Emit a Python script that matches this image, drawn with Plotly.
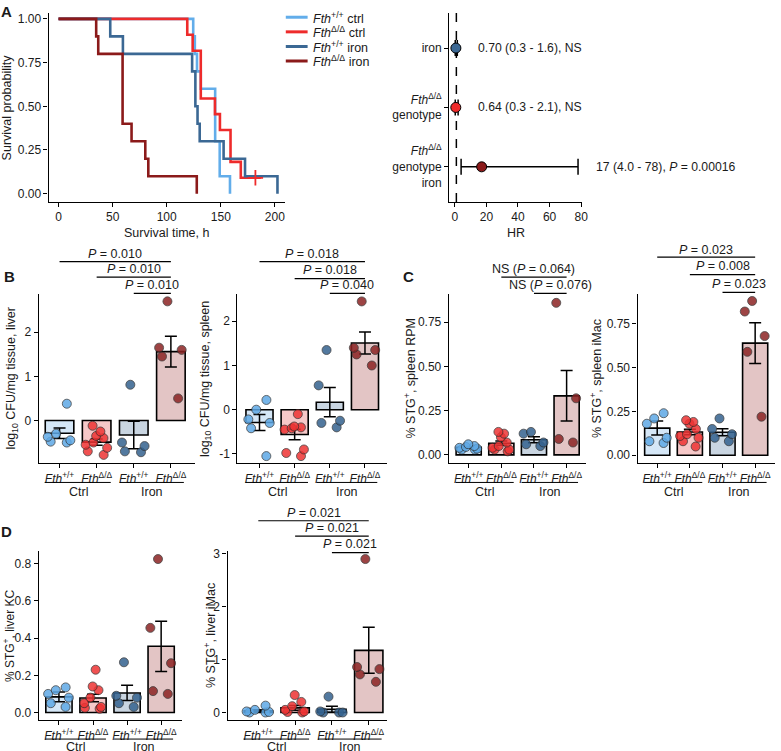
import plotly.graph_objects as go

W, H = 781, 751
FONT = "Liberation Sans, Arial, Helvetica, sans-serif"
TXT = "#1a1a1a"

# ---------------- DATA ----------------
# Panel A left: Kaplan-Meier survival
km_legend = ["<i>Fth</i><sup>+/+</sup> ctrl", "<i>Fth</i><sup>Δ/Δ</sup> ctrl",
             "<i>Fth</i><sup>+/+</sup> iron", "<i>Fth</i><sup>Δ/Δ</sup> iron"]
km_time_wt_ctrl = [0, 124.5, 126, 128, 131.5, 144.8, 149, 158.5]
km_surv_wt_ctrl = [1.0, 0.9, 0.8, 0.7, 0.6, 0.3, 0.1, 0.0]
km_time_ko_ctrl = [0, 119, 124, 131.5, 144.6, 149.2, 159, 168.5, 187]
km_surv_ko_ctrl = [1.0, 0.909, 0.818, 0.545, 0.455, 0.364, 0.182, 0.091, 0.091]
km_time_wt_iron = [0, 47.8, 59.5, 123.5, 126.5, 128.5, 130.5, 152.6, 172.4, 202.4]
km_surv_wt_iron = [1.0, 0.9, 0.8, 0.7, 0.5, 0.4, 0.3, 0.2, 0.1, 0.0]
km_time_ko_iron = [0, 34.8, 36.7, 59.2, 67.5, 80.2, 83.0, 127.8]
km_surv_ko_iron = [1.0, 0.9, 0.8, 0.4, 0.3, 0.2, 0.1, 0.0]
km_censor_time_ko_ctrl = [182]
km_censor_surv_ko_ctrl = [0.091]
km_xticks = [0, 50, 100, 150, 200]
km_yticks = [0, 0.25, 0.5, 0.75, 1.0]
km_yticktext = ["0.00", "0.25", "0.50", "0.75", "1.00"]

# Panel A right: hazard ratios
hr_pos = [3, 2, 1]
hr_ticktext = ["iron",
               "<i>Fth</i><sup>Δ/Δ</sup><br>genotype",
               "<i>Fth</i><sup>Δ/Δ</sup><br>genotype<br>iron"]
hr_estimate = [0.70, 0.64, 17]
hr_ci_low = [0.3, 0.3, 4.0]
hr_ci_high = [1.6, 2.1, 78]
hr_label = ["0.70 (0.3 - 1.6), NS", "0.64 (0.3 - 2.1), NS",
            "17 (4.0 - 78), <i>P</i> = 0.00016"]
hr_xticks = [0, 20, 40, 60, 80]

# Bar panels (groups: Fth+/+ ctrl, FthΔ/Δ ctrl, Fth+/+ iron, FthΔ/Δ iron)
bar_ticktext = ["<i>Fth</i><sup>+/+</sup>", "<i>Fth</i><sup>Δ/Δ</sup>",
                "<i>Fth</i><sup>+/+</sup>", "<i>Fth</i><sup>Δ/Δ</sup>"]
treatment_labels = ["Ctrl", "Iron"]

liver_cfu_mean = [-0.29, -0.49, -0.33, 1.56]
liver_cfu_se = [0.12, 0.07, 0.31, 0.35]
liver_cfu_pts = [[0.38, -0.30, -0.37, -0.45, -0.48, -0.50],
                 [-0.12, -0.25, -0.35, -0.40, -0.50, -0.55, -0.62, -0.70, -0.78],
                 [0.81, -0.50, -0.58, -0.70, -0.72],
                 [2.70, 1.65, 1.60, 1.45, 0.50]]
liver_cfu_p = ["<i>P</i> = 0.010", "<i>P</i> = 0.010", "<i>P</i> = 0.010"]

spleen_cfu_mean = [-0.29, -0.56, 0.17, 1.51]
spleen_cfu_se = [0.18, 0.12, 0.33, 0.25]
spleen_cfu_pts = [[0.22, 0.0, -0.22, -0.30, -0.42, -1.05],
                  [-0.10, -0.38, -0.40, -0.42, -0.45, -0.90, -0.98, -1.05],
                  [1.35, 0.55, -0.25, -0.30, -0.40],
                  [2.45, 1.40, 1.35, 1.25, 1.00]]
spleen_cfu_p = ["<i>P</i> = 0.018", "<i>P</i> = 0.018", "<i>P</i> = 0.040"]

spleen_rpm_mean = [0.043, 0.066, 0.086, 0.334]
spleen_rpm_se = [0.005, 0.012, 0.017, 0.143]
spleen_rpm_pts = [[0.06, 0.05, 0.045, 0.04, 0.035, 0.03, 0.03],
                  [0.13, 0.12, 0.10, 0.07, 0.05, 0.04, 0.03, 0.02, 0.03],
                  [0.13, 0.12, 0.07, 0.06, 0.05],
                  [0.86, 0.32, 0.09, 0.07]]
spleen_rpm_p = ["NS (<i>P</i> = 0.064)", "NS (<i>P</i> = 0.076)"]

spleen_imac_mean = [0.155, 0.133, 0.131, 0.64]
spleen_imac_se = [0.04, 0.016, 0.02, 0.116]
spleen_imac_pts = [[0.24, 0.21, 0.18, 0.10, 0.08, 0.07],
                   [0.20, 0.19, 0.18, 0.15, 0.12, 0.11, 0.10, 0.08, 0.05],
                   [0.21, 0.15, 0.12, 0.10, 0.08],
                   [0.88, 0.82, 0.68, 0.59, 0.22]]
spleen_imac_p = ["<i>P</i> = 0.023", "<i>P</i> = 0.008", "<i>P</i> = 0.023"]

liver_kc_mean = [0.084, 0.078, 0.105, 0.356]
liver_kc_se = [0.026, 0.02, 0.041, 0.135]
liver_kc_pts = [[0.135, 0.12, 0.10, 0.08, 0.05, 0.03],
                [0.23, 0.14, 0.12, 0.08, 0.05, 0.03, 0.025, 0.02],
                [0.27, 0.09, 0.08, 0.05, 0.03],
                [0.825, 0.455, 0.265, 0.115, 0.10]]

liver_imac_mean = [0.03, 0.088, 0.062, 1.175]
liver_imac_se = [0.02, 0.045, 0.058, 0.435]
liver_imac_pts = [[0.13, 0.05, 0.02, 0.0, 0.0, 0.01],
                  [0.33, 0.20, 0.12, 0.05, 0.02, 0.01, 0.0],
                  [0.30, 0.02, 0.0, 0.0, 0.0],
                  [2.90, 0.86, 0.82, 0.72, 0.58]]
liver_imac_p = ["<i>P</i> = 0.021", "<i>P</i> = 0.021", "<i>P</i> = 0.021"]

bracket_pairs = [(0, 3), (1, 3), (2, 3)]

# ---------------- STYLE ----------------
line_colors = ["#62ADEA", "#EE2B2B", "#3B6894", "#8B1A1A"]
bar_fill = ["#D5E7F7", "#F6C8C8", "#C9D5E1", "#E3C5C5"]
pt_fill = ["#5FA9E6", "#EE3333", "#34628F", "#8C2424"]

fig = go.Figure()


def py(p):
    return 1 - p / H


def cal_range(v0, p0, v1, p1, pa, pb):
    s = (v1 - v0) / (p1 - p0)
    return [v0 + (pa - p0) * s, v0 + (pb - p0) * s]


axis_common = dict(showline=True, linecolor="black", linewidth=1.3,
                   ticks="outside", ticklen=4, tickwidth=1.2, tickcolor="black",
                   showgrid=False, zeroline=False,
                   tickfont=dict(family=FONT, size=12, color=TXT))


def make_axes(n, xcal, xpx, ycal, ypx, xkw, ykw):
    xr = cal_range(xcal[0][0], xcal[0][1], xcal[1][0], xcal[1][1], xpx[0], xpx[1])
    yr = cal_range(ycal[0][0], ycal[0][1], ycal[1][0], ycal[1][1], ypx[1], ypx[0])
    sfx = "" if n == 1 else str(n)
    xa = dict(axis_common)
    xa.update(domain=[max(0, xpx[0] / W), min(1, xpx[1] / W)], range=xr, anchor="y" + sfx)
    xa.update(xkw)
    ya = dict(axis_common)
    ya.update(domain=[max(0, 1 - ypx[1] / H), min(1, 1 - ypx[0] / H)], range=yr, anchor="x" + sfx)
    ya.update(ykw)
    fig.update_layout({"xaxis" + sfx: xa, "yaxis" + sfx: ya})
    return "x" + sfx, "y" + sfx


def text(x, y, s, xref="paper", size=12, angle=0, xanchor="center", yanchor="middle", bold=False):
    if bold:
        s = "<b>" + s + "</b>"
    fig.add_annotation(x=x, y=y, xref=xref, yref="paper", text=s, showarrow=False,
                       textangle=angle, xanchor=xanchor, yanchor=yanchor,
                       font=dict(family=FONT, size=size, color=TXT))


# ---------------- PANEL A: KM ----------------
xa, ya = make_axes(1, ((0, 59), (200, 277)), (49, 287), ((1, 15), (0, 190.7)), (9, 199),
                   dict(tickvals=km_xticks), dict(tickvals=km_yticks, ticktext=km_yticktext))
for t, s, c in zip([km_time_wt_ctrl, km_time_ko_ctrl, km_time_wt_iron, km_time_ko_iron],
                   [km_surv_wt_ctrl, km_surv_ko_ctrl, km_surv_wt_iron, km_surv_ko_iron],
                   line_colors):
    fig.add_trace(go.Scatter(x=t, y=s, mode="lines", line=dict(color=c, width=2.6, shape="hv"),
                             xaxis=xa, yaxis=ya, showlegend=False))
fig.add_trace(go.Scatter(x=km_censor_time_ko_ctrl, y=km_censor_surv_ko_ctrl, mode="markers",
                         marker=dict(symbol="cross-thin", size=11,
                                     line=dict(color=line_colors[1], width=1.8)),
                         xaxis=xa, yaxis=ya, showlegend=False))
text(8 / W, py(104), "Survival probability", angle=-90, size=12.5)
text(168 / W, py(230), "Survival time, h", size=12.5)
# manual legend
for lab, c, rowy in zip(km_legend, line_colors, [13.3, 28, 42.7, 57.3]):
    fig.add_shape(type="line", xref="paper", yref="paper", x0=288 / W, x1=310 / W,
                  y0=py(rowy), y1=py(rowy), line=dict(color=c, width=3))
    text(313 / W, py(rowy + 0.5), lab, xanchor="left", size=12.5)

# ---------------- PANEL A: HR ----------------
xa, ya = make_axes(2, ((0, 458.3), (80, 585.7)), (452.7, 587), ((3, 44.3), (1, 163.7)), (9, 199),
                   dict(tickvals=hr_xticks), dict(tickvals=hr_pos, ticktext=hr_ticktext))
fig.add_shape(type="line", xref=xa, yref="y2 domain", x0=1, x1=1, y0=0, y1=1, layer="below",
              line=dict(color="black", width=1.5, dash="dash"))
for i in range(3):
    fig.add_trace(go.Scatter(
        x=[hr_estimate[i]], y=[hr_pos[i]], mode="markers",
        marker=dict(color=line_colors[[2, 1, 3][i]], size=10, line=dict(color="black", width=1)),
        error_x=dict(type="data", symmetric=False,
                     array=[hr_ci_high[i] - hr_estimate[i]],
                     arrayminus=[hr_estimate[i] - hr_ci_low[i]],
                     color="black", thickness=1.5, width=8),
        xaxis=xa, yaxis=ya, showlegend=False))
for lab, yv, xp in zip(hr_label, [44.3, 104, 163.7], [480, 480, 599]):
    text(xp / W, py(yv), lab, xanchor="left", size=12.2)
text(520 / W, py(230), "HR", size=12.5)


# ---------------- BAR PANELS ----------------
def bar_panel(n, xcal, xpx, ycal, ypx, ytv, ytt, means, ses, pts, title, title_x,
              ptexts=None, line_py=None, text_py=None, under_py=481, label_py=491, title_size=12.5):
    xa, ya = make_axes(n, xcal, xpx, ycal, ypx,
                       dict(tickvals=[0, 1, 2, 3], ticktext=bar_ticktext),
                       dict(tickvals=ytv, ticktext=ytt))
    fig.add_trace(go.Bar(x=[0, 1, 2, 3], y=means, width=0.77,
                         marker=dict(color=bar_fill, line=dict(color="black", width=1.6)),
                         error_y=dict(type="data", array=ses, color="black", thickness=1.5, width=6),
                         xaxis=xa, yaxis=ya, showlegend=False))
    for i in range(4):
        fig.add_trace(go.Box(x=[i] * len(pts[i]), y=pts[i], boxpoints="all", jitter=1, pointpos=0,
                             width=0.75, fillcolor="rgba(0,0,0,0)",
                             line=dict(width=0, color="rgba(0,0,0,0)"),
                             marker=dict(color=pt_fill[i], size=9, opacity=0.85,
                                         line=dict(color="#2a2a2a", width=0.8)),
                             xaxis=xa, yaxis=ya, showlegend=False))
    text(title_x / W, py((ypx[0] + ypx[1]) / 2), title, angle=-90, size=title_size)
    # group underline + labels
    for (a, b), lab, mid in zip([(-0.4, 1.38), (1.62, 3.35)], treatment_labels, [0.5, 2.5]):
        fig.add_shape(type="line", xref=xa, yref="paper", x0=a, x1=b, y0=py(under_py), y1=py(under_py),
                      line=dict(color="black", width=1))
        text(mid, py(label_py), lab, xref=xa, size=12.5)
    if ptexts:
        pairs = bracket_pairs[-len(ptexts):] if len(ptexts) < 3 else bracket_pairs
        for (a, b), s, lp, tp in zip(pairs, ptexts, line_py, text_py):
            fig.add_shape(type="line", xref=xa, yref="paper", x0=a, x1=b, y0=py(lp), y1=py(lp),
                          line=dict(color="black", width=1.2))
            text((a + b) / 2, py(tp), s, xref=xa, size=12.5)


bar_panel(3, ((0, 60), (3, 172.2)), (39, 196.7), ((2, 330), (0, 418.7)), (291.7, 461.7),
          [0, 1, 2], ["0", "1", "2"], liver_cfu_mean, liver_cfu_se, liver_cfu_pts,
          "log<sub>10</sub> CFU/mg tissue, liver", 12,
          liver_cfu_p, [259, 274.5, 291], [251.5, 266.5, 283])
bar_panel(4, ((0, 261.5), (3, 367.8)), (239.3, 390), ((2, 319), (-1, 452.3)), (291.7, 461.7),
          [-1, 0, 1, 2], ["-1", "0", "1", "2"], spleen_cfu_mean, spleen_cfu_se, spleen_cfu_pts,
          "log<sub>10</sub> CFU/mg tissue, spleen", 207,
          spleen_cfu_p, [259, 276, 291], [251.5, 267.5, 283])
bar_panel(5, ((0, 472.3), (3, 571)), (452.3, 590.7), ((0.75, 320), (0, 453.3)), (291.7, 461.7),
          [0, 0.25, 0.5, 0.75], ["0.00", "0.25", "0.50", "0.75"],
          spleen_rpm_mean, spleen_rpm_se, spleen_rpm_pts,
          "% STG<sup>+</sup>, spleen RPM", 413,
          spleen_rpm_p, [274.5, 291], [266, 282.5])
bar_panel(6, ((0, 662.3), (3, 761)), (642.5, 781), ((0.75, 321.5), (0, 453.7)), (291.7, 461.7),
          [0, 0.25, 0.5, 0.75], ["0.00", "0.25", "0.50", "0.75"],
          spleen_imac_mean, spleen_imac_se, spleen_imac_pts,
          "% STG<sup>+</sup>, spleen iMac", 600,
          spleen_imac_p, [254.5, 272, 290], [247, 263.5, 281])
bar_panel(7, ((0, 59.4), (3, 162.4)), (39, 183.3), ((0.8, 562.7), (0, 712.3)), (550, 720),
          [0, 0.2, 0.4, 0.6, 0.8], ["0.0", "0.2", "0.4", "0.6", "0.8"],
          liver_kc_mean, liver_kc_se, liver_kc_pts,
          "% STG<sup>+</sup>, liver KC", 8.5, under_py=739, label_py=746.5, title_size=12)
bar_panel(8, ((0, 260.3), (3, 371.6)), (229.3, 390), ((3, 552.7), (0, 712.3)), (550, 720),
          [0, 1, 2, 3], ["0", "1", "2", "3"],
          liver_imac_mean, liver_imac_se, liver_imac_pts,
          "% STG<sup>+</sup>, liver iMac", 211,
          liver_imac_p, [519.5, 535, 551.5], [511.5, 527, 543], under_py=739, label_py=746.5)

# panel letters
for lab, x, yv in [("A", 7, 8), ("B", 10, 274), ("C", 412, 274), ("D", 7, 530)]:
    text(x / W, py(yv), lab, size=15, bold=True)

fig.update_layout(width=W, height=H, autosize=False,
                  margin=dict(l=0, r=0, t=0, b=0, pad=0),
                  paper_bgcolor="white", plot_bgcolor="white",
                  boxmode="overlay", showlegend=False,
                  font=dict(family=FONT, size=12, color=TXT))

fig.write_html("out.html",
               config={"displayModeBar": False},
               post_script="document.body.style.margin='0px';document.body.style.padding='0px';"
                           "document.body.style.overflow='hidden';")
